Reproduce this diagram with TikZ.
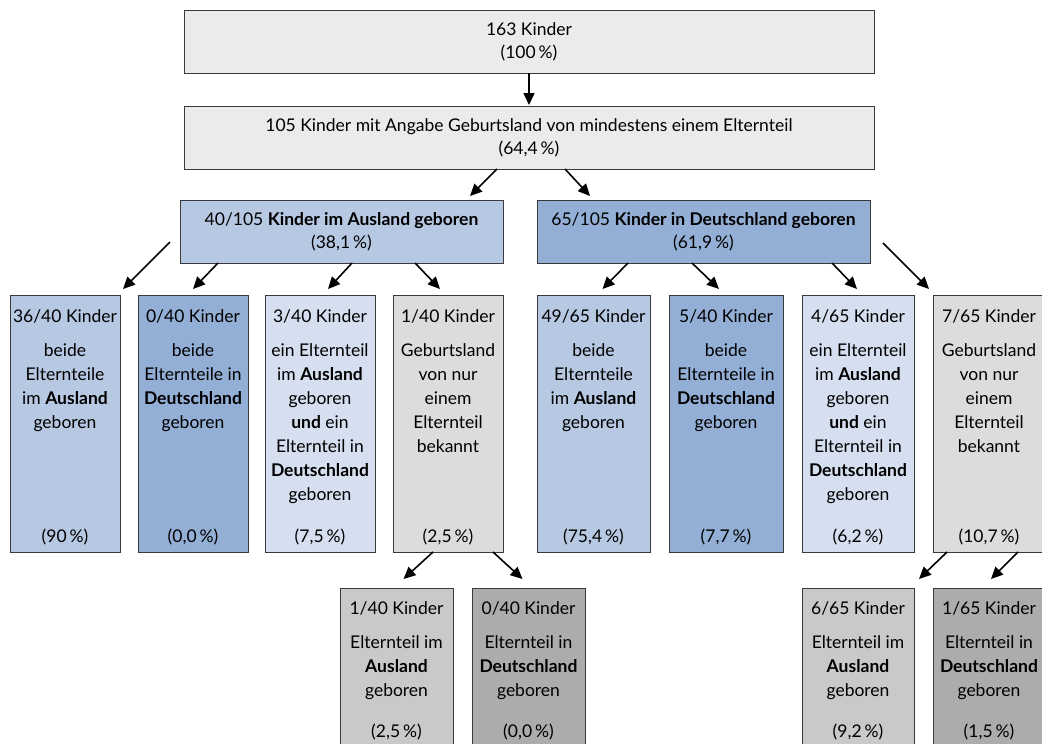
\documentclass[tikz,border=0pt]{standalone}
\usepackage{fontspec}
\setmainfont{Lato}
\usetikzlibrary{arrows.meta,calc}
\definecolor{topgray}{HTML}{EBEBEB}
\definecolor{blueA}{HTML}{B7C8E2}
\definecolor{blueD}{HTML}{94AFD6}
\definecolor{blueL}{HTML}{D5DFEF}
\definecolor{grayL}{HTML}{DCDCDC}
\definecolor{grayM}{HTML}{C9C9C9}
\definecolor{grayD}{HTML}{ACACAC}
\definecolor{bordc}{HTML}{3A3A3A}
\newcommand\leafbox[7]{%
  \node[box, fill=#4, minimum width=#3pt, minimum height=257pt] (#1) at (#2,295) {};
  \node[txt, anchor=base] (#1t) at ($(#1.north)+(0,27)$) {#5};
  \node[txt, anchor=north] (#1b) at ($(#1.north)+(0,48)$) {#6};
  \node[txt, anchor=base] (#1p) at ($(#1.north)+(0,247)$) {#7};}
\newcommand\lowbox[7]{%
  \node[box, fill=#4, minimum width=#3pt, minimum height=180pt] (#1) at (#2,588) {};
  \node[txt, anchor=base] (#1t) at ($(#1.north)+(0,26)$) {#5};
  \node[txt, anchor=north] (#1b) at ($(#1.north)+(0,47)$) {#6};
  \node[txt, anchor=base] (#1p) at ($(#1.north)+(0,149)$) {#7};}
\begin{document}
\begin{tikzpicture}[x=1pt,y=-1pt,
  box/.style={draw=bordc, line width=1pt, inner sep=0pt, outer sep=0pt, anchor=north west},
  txt/.style={inner sep=0pt, font=\fontsize{17.5}{24}\selectfont, align=center, text=black},
  headbox/.style={box, align=center, font=\fontsize{17.5}{23}\selectfont},
  arr/.style={-{Triangle[length=12pt,width=11pt]}, line width=1.6pt, black}]
\clip (0,0) rectangle (1042,744);
\fill[white] (0,0) rectangle (1042,744);

\node[headbox, fill=topgray, minimum width=690pt, minimum height=63pt] (n163) at (184,10) {163 Kinder\\(100\,\%)};
\node[headbox, fill=topgray, minimum width=690pt, minimum height=63pt] (n105) at (184,106) {105 Kinder mit Angabe Geburtsland von mindestens einem Elternteil\\(64,4\,\%)};
\node[headbox, fill=blueA, minimum width=323pt, minimum height=63pt] (b40) at (180,200) {40/105 \textbf{Kinder im Ausland geboren}\\(38,1\,\%)};
\node[headbox, fill=blueD, minimum width=333pt, minimum height=63pt] (b65) at (537,200) {65/105 \textbf{Kinder in Deutschland geboren}\\(61,9\,\%)};

\leafbox{l1}{10}{110}{blueA}{36/40 Kinder}{beide\\Elternteile\\im \textbf{Ausland}\\geboren}{(90\,\%)}
\leafbox{l2}{138}{110}{blueD}{0/40 Kinder}{beide\\Elternteile in\\\textbf{Deutschland}\\geboren}{(0,0\,\%)}
\leafbox{l3}{265}{110}{blueL}{3/40 Kinder}{ein Elternteil\\im \textbf{Ausland}\\geboren\\\textbf{und} ein\\Elternteil in\\\textbf{Deutschland}\\geboren}{(7,5\,\%)}
\leafbox{l4}{393}{110}{grayL}{1/40 Kinder}{Geburtsland\\von nur\\einem\\Elternteil\\bekannt}{(2,5\,\%)}
\leafbox{l5}{537}{113}{blueA}{49/65 Kinder}{beide\\Elternteile\\im \textbf{Ausland}\\geboren}{(75,4\,\%)}
\leafbox{l6}{669}{114}{blueD}{5/40 Kinder}{beide\\Elternteile in\\\textbf{Deutschland}\\geboren}{(7,7\,\%)}
\leafbox{l7}{802}{112}{blueL}{4/65 Kinder}{ein Elternteil\\im \textbf{Ausland}\\geboren\\\textbf{und} ein\\Elternteil in\\\textbf{Deutschland}\\geboren}{(6,2\,\%)}
\leafbox{l8}{933}{112}{grayL}{7/65 Kinder}{Geburtsland\\von nur\\einem\\Elternteil\\bekannt}{(10,7\,\%)}

\lowbox{bA}{340}{113}{grayM}{1/40 Kinder}{Elternteil im\\\textbf{Ausland}\\geboren}{(2,5\,\%)}
\lowbox{bB}{472}{113}{grayD}{0/40 Kinder}{Elternteil in\\\textbf{Deutschland}\\geboren}{(0,0\,\%)}
\lowbox{bC}{802}{112}{grayM}{6/65 Kinder}{Elternteil im\\\textbf{Ausland}\\geboren}{(9,2\,\%)}
\lowbox{bD}{933}{112}{grayD}{1/65 Kinder}{Elternteil in\\\textbf{Deutschland}\\geboren}{(1,5\,\%)}

\draw[arr] (n163.south) -- ($(n105.north)+(0,-1)$);
\draw[arr] ($(n105.south)+(-32,0)$) -- ($(b40.north east)+(-33,-4)$);
\draw[arr] ($(n105.south)+(36,0)$) -- ($(b65.north west)+(53,-4)$);

\draw[arr] ($(b40.south west)+(-10,-21)$) -- ($(l1.north east)+(3,-6)$);
\draw[arr] ($(b40.south west)+(38,0)$) -- ($(l2.north)+(0,-6)$);
\draw[arr] ($(b40.south west)+(172,0)$) -- ($(l3.north)+(8,-6)$);
\draw[arr] ($(b40.south west)+(235,0)$) -- ($(l4.north)+(-8,-6)$);

\draw[arr] ($(b65.south west)+(91,0)$) -- ($(l5.north)+(9,-6)$);
\draw[arr] ($(b65.south west)+(155,0)$) -- ($(l6.north)+(-7,-6)$);
\draw[arr] ($(b65.south west)+(295,0)$) -- ($(l7.north)+(-1,-6)$);
\draw[arr] ($(b65.south east)+(13,-20)$) -- ($(l8.north west)+(-4,-6)$);

\draw[arr] ($(l4.south west)+(40,0)$) -- ($(bA.north)+(7,-9)$);
\draw[arr] ($(l4.south west)+(100,0)$) -- ($(bB.north)+(-6,-9)$);
\draw[arr] ($(l8.south west)+(14,0)$) -- ($(bC.north east)+(5,-9)$);
\draw[arr] ($(l8.south west)+(85,0)$) -- ($(bD.north)+(2,-9)$);
\end{tikzpicture}
\end{document}
